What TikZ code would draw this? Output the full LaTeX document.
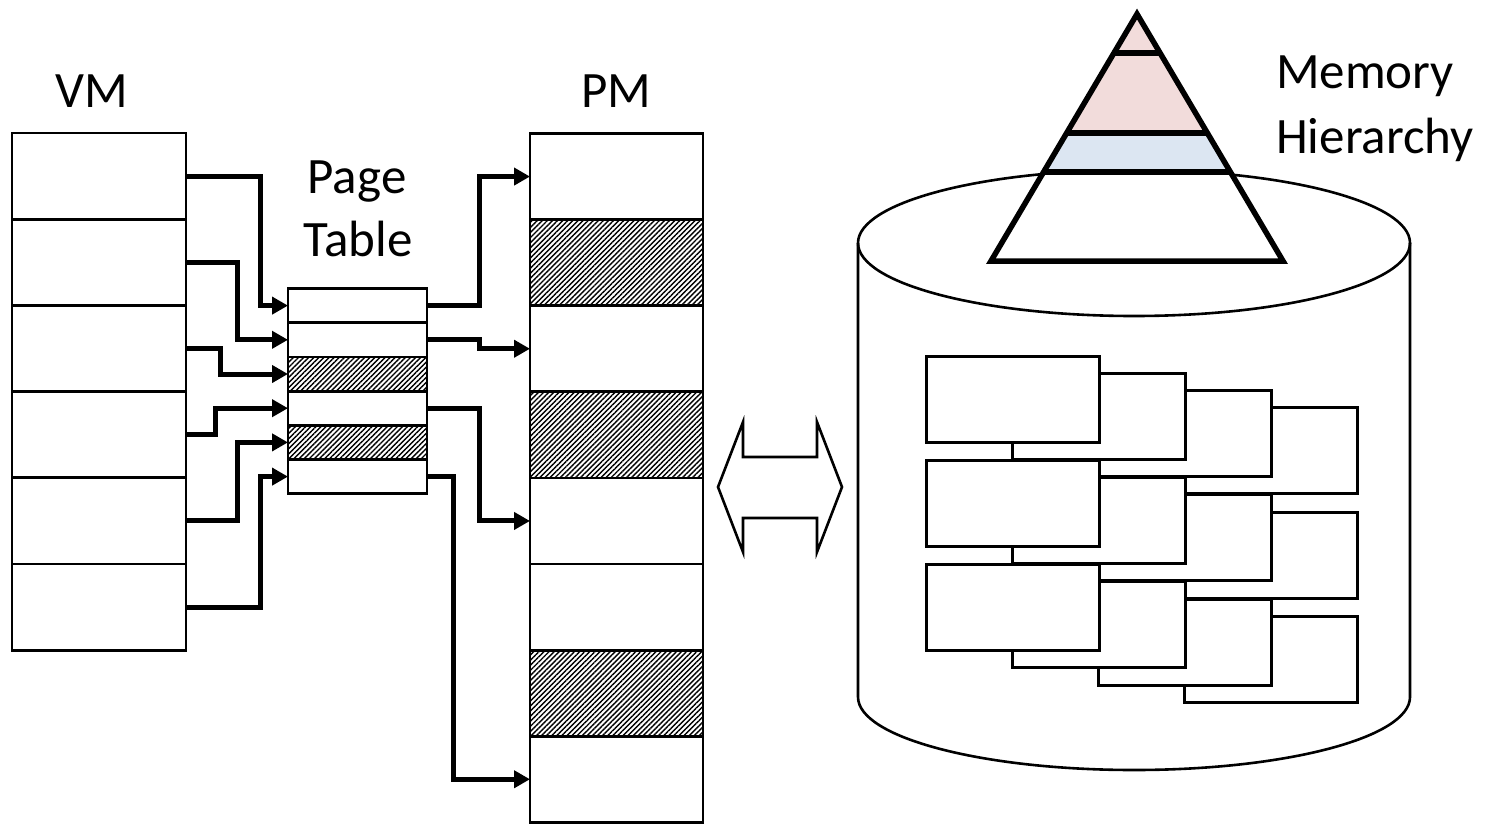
\documentclass[tikz,border=0pt]{standalone}
\usepackage{fontspec}
\setmainfont{Carlito}
\usetikzlibrary{arrows.meta,patterns.meta}
\definecolor{pinkband}{HTML}{F2DCDB}
\definecolor{blueband}{HTML}{DCE6F2}
\begin{document}
\begin{tikzpicture}[x=1pt,y=-1pt,
 plain/.style={},
 cell/.style={draw, line width=2.8pt, inner sep=0pt, outer sep=0pt, anchor=north west},
 vmcell/.style={cell, minimum width=174pt, minimum height=86.2pt},
 ptcell/.style={cell, minimum width=139pt, minimum height=34.2pt},
 pmcell/.style={cell, minimum width=173pt, minimum height=86.1pt},
 hatch/.style={pattern={Lines[angle=45,distance=3.6pt,line width=1.4pt]}},
 conn/.style={line width=5pt, -{Triangle[length=16pt,width=17pt]}},
 card/.style={draw, fill=white, line width=3pt, inner sep=0pt, outer sep=0pt, anchor=north west, minimum width=173pt, minimum height=86pt},
 lbl/.style={font=\fontsize{51}{64}\selectfont, inner sep=0pt},
 thinline/.style={line width=2.6pt},
 pyr/.style={line width=5.5pt}]
\useasboundingbox (0,0) rectangle (1487,824);

% Virtual memory
\foreach \i in {1,...,6}
  \node[vmcell] (vm\i) at (12,{133+86.2*(\i-1)}) {};
% Page table
\foreach \i/\s in {1/plain,2/plain,3/hatch,4/plain,5/hatch,6/plain}
  \node[ptcell,\s] (pt\i) at (288,{288.5+34.2*(\i-1)}) {};
% Physical memory
\foreach \i/\s in {1/plain,2/hatch,3/plain,4/hatch,5/plain,6/plain,7/hatch,8/plain}
  \node[pmcell,\s] (pm\i) at (530,{133.5+86.1*(\i-1)}) {};

% labels
\node[lbl, anchor=base] (vmlabel) at (92,108) {VM};
\node[lbl, anchor=base] (pmlabel) at (616,108) {PM};
\node[lbl, anchor=base] (ptlabela) at (357,193) {Page};
\node[lbl, anchor=base] (ptlabelb) at (358,256) {Table};
\node[lbl, anchor=base west] (mhlabela) at (1276,89) {Memory};
\node[lbl, anchor=base west] (mhlabelb) at (1276,153) {Hierarchy};

% connectors VM -> PT
\draw[conn] (vm1.east) -- ++(74,0) |- (pt1.west);
\draw[conn] (vm2.east) -- ++(51,0) |- (pt2.west);
\draw[conn] (vm3.east) -- ++(34,0) |- (pt3.west);
\draw[conn] (vm4.east) -- ++(29,0) |- (pt4.west);
\draw[conn] (vm5.east) -- ++(51,0) |- (pt5.west);
\draw[conn] (vm6.east) -- ++(74,0) |- (pt6.west);
% connectors PT -> PM
\draw[conn] (pt1.east) -- ++(52,0) |- (pm1.west);
\draw[conn] (pt2.east) -- ++(52,0) |- (pm3.west);
\draw[conn] (pt4.east) -- ++(52,0) |- (pm5.west);
\draw[conn] (pt6.east) -- ++(26,0) |- (pm8.west);

% double arrow
\draw[thinline, line join=miter] (718,487) -- (743,422) -- (743,457) -- (817,457) -- (817,422)
  -- (842,487) -- (817,552) -- (817,518) -- (743,518) -- (743,552) -- cycle;

% disk cylinder
\draw[thinline, fill=white] (858,243) -- (858,697) arc[start angle=180, end angle=360, x radius=276pt, y radius=73pt] -- (1410,243);
\draw[thinline] (1134,243) ellipse [x radius=276pt, y radius=73pt];

% stacked pages on disk
\foreach \r in {0,1,2}
  \foreach \k in {3,2,1,0}
    \node[card] (card\r\k) at ({926+86.3*\k},{356+104.3*\r+17.3*\k}) {};

% pyramid
\fill[pinkband] (1137,14) -- (1207.3,133) -- (1066.7,133) -- cycle;
\fill[blueband] (1066.7,133) -- (1207.3,133) -- (1230.4,172) -- (1043.6,172) -- cycle;
\fill[white] (1043.6,172) -- (1230.4,172) -- (1283,261) -- (991,261) -- cycle;
\draw[pyr, line join=miter] (1137,14) -- (1283,261) -- (991,261) -- cycle;
\draw[pyr] (1114,53) -- (1160,53);
\draw[pyr] (1066.7,133) -- (1207.3,133);
\draw[pyr] (1043.6,172) -- (1230.4,172);
\end{tikzpicture}
\end{document}
